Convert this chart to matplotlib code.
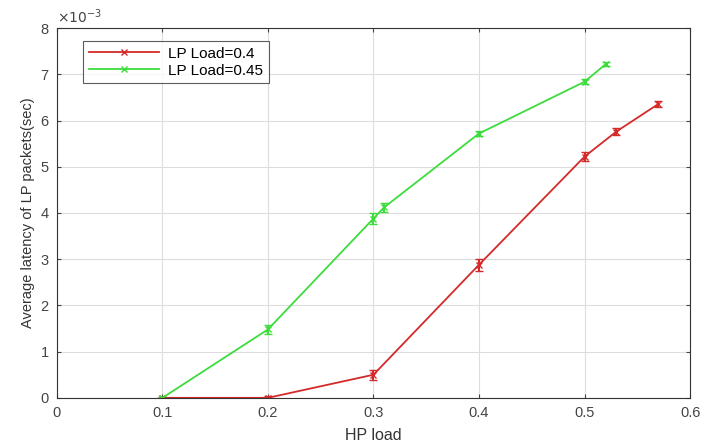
import matplotlib
matplotlib.use("Agg")
from matplotlib import pyplot as plt
from matplotlib.lines import Line2D
import numpy as np

# HP load vs latency (x1e-3 sec)
hp_red = [0.1, 0.2, 0.3, 0.4, 0.5, 0.53, 0.57]
lat_red = [0.0, 0.0, 0.5, 2.88, 5.22, 5.76, 6.36]
err_red = [0.02, 0.05, 0.11, 0.13, 0.09, 0.07, 0.07]

hp_green = [0.1, 0.2, 0.3, 0.31, 0.4, 0.5, 0.52]
lat_green = [0.0, 1.48, 3.88, 4.12, 5.72, 6.84, 7.22]
err_green = [0.02, 0.1, 0.12, 0.1, 0.06, 0.05, 0.04]

labels = ["LP Load=0.4", "LP Load=0.45"]
red = '#d42a2a'
green = '#3ddc3d'

plt.rcParams['font.family'] = ['Liberation Sans', 'DejaVu Sans']

fig = plt.figure(figsize=(7.02, 4.47), dpi=100)
ax = fig.add_axes([0.081, 0.11, 0.902, 0.827])

ax.errorbar(hp_red, np.array(lat_red) * 1e-3, yerr=np.array(err_red) * 1e-3,
            color=red, marker='x', markersize=5, linewidth=1.3,
            capsize=3, elinewidth=1.5)
ax.errorbar(hp_green, np.array(lat_green) * 1e-3, yerr=np.array(err_green) * 1e-3,
            color=green, marker='x', markersize=5, linewidth=1.3,
            capsize=3, elinewidth=1.5)

ax.set_xlim(0, 0.6)
ax.set_ylim(0, 8e-3)
ax.set_xticks(np.arange(0, 0.61, 0.1))
ax.set_xticklabels(['0', '0.1', '0.2', '0.3', '0.4', '0.5', '0.6'])
ax.set_yticks(np.arange(0, 8.1e-3, 1e-3))
ax.set_yticklabels([str(i) for i in range(9)])
ax.text(0.0, 1.005, r'$\times10^{-3}$', transform=ax.transAxes,
        fontsize=10, color='#444444', ha='left', va='bottom')

ax.tick_params(direction='in', top=True, right=True, labelsize=10.5,
               colors='#444444', length=3, pad=6)
for s in ax.spines.values():
    s.set_color('#333333')
    s.set_linewidth(0.8)
ax.grid(color='#dddddd', linewidth=0.8)
ax.set_axisbelow(True)

ax.set_xlabel('HP load', fontsize=11.5, color='#333333', labelpad=6)
ax.set_ylabel('Average latency of LP packets(sec)', fontsize=10.5, color='#333333', labelpad=4)

handles = [Line2D([], [], color=red, marker='x', markersize=5, linewidth=1.3),
           Line2D([], [], color=green, marker='x', markersize=5, linewidth=1.3)]
leg = ax.legend(handles, labels, loc='upper left', bbox_to_anchor=(0.03, 0.985), fontsize=11,
                frameon=True, fancybox=False, edgecolor='#333333',
                handlelength=4.6, borderpad=0.35, labelspacing=0.2, handletextpad=0.6)
leg.get_frame().set_linewidth(0.8)

plt.savefig("out.png", dpi=100)
